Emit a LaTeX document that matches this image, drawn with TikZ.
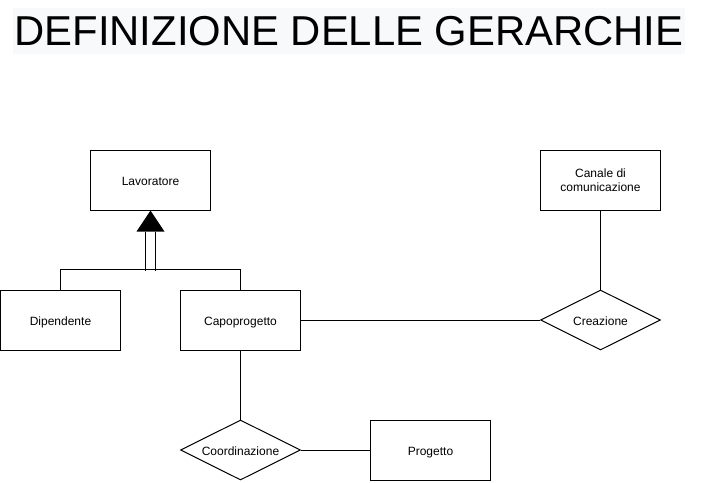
\documentclass[tikz,border=0pt]{standalone}
\usepackage{fontspec}
\setmainfont{Liberation Sans}
\usetikzlibrary{shapes.geometric}
\definecolor{sfondotitolo}{RGB}{248,249,250}
\tikzset{
  entita/.style={draw, line width=1pt, minimum width=120pt, minimum height=60pt,
    inner sep=0pt, text height=10pt, text depth=0pt, font=\fontsize{12}{14}\selectfont},
  relazione/.style={draw, diamond, aspect=2, line width=1pt, minimum width=120pt,
    minimum height=60pt, inner sep=0pt, text height=10pt, text depth=0pt,
    font=\fontsize{12}{14}\selectfont},
  linea/.style={line width=1pt}
}

\begin{document}
\begin{tikzpicture}[x=1pt,y=-1pt]
\useasboundingbox (-0.5,0) rectangle (710.5,482);

\fill[sfondotitolo] (12,8) rectangle (684,54);
\node[font=\fontsize{41.8}{46}\selectfont, inner sep=0pt] (titolo) at (348.5,31) {DEFINIZIONE DELLE GERARCHIE};

\node[entita] (Lavoratore) at (150,180) {Lavoratore};
\node[entita] (Dipendente) at (60,320) {Dipendente};
\node[entita] (Capoprogetto) at (240,320) {Capoprogetto};
\node[entita, text height=, text depth=, inner ysep=3pt, align=center] (Canale) at (600,180) {Canale di\\comunicazione};
\node[relazione] (Creazione) at (600,320) {Creazione};
\node[relazione] (Coordinazione) at (240,450) {Coordinazione};
\node[entita] (Progetto) at (430,450) {Progetto};

\fill (Lavoratore.south) -- ++(-14,21) -- ++(28,0) -- cycle;
\draw[linea] (Lavoratore.south) ++(-5,21) -- ++(0,39);
\draw[linea] (Lavoratore.south) ++(5,21) -- ++(0,39);
\draw[linea] (Dipendente.north) -- ++(0,-20) -| (Capoprogetto.north);

\draw[linea] (Capoprogetto.east) -- (Creazione.west);
\draw[linea] (Canale.south) -- (Creazione.north);
\draw[linea] (Capoprogetto.south) -- (Coordinazione.north);
\draw[linea] (Coordinazione.east) -- (Progetto.west);

\end{tikzpicture}
\end{document}
